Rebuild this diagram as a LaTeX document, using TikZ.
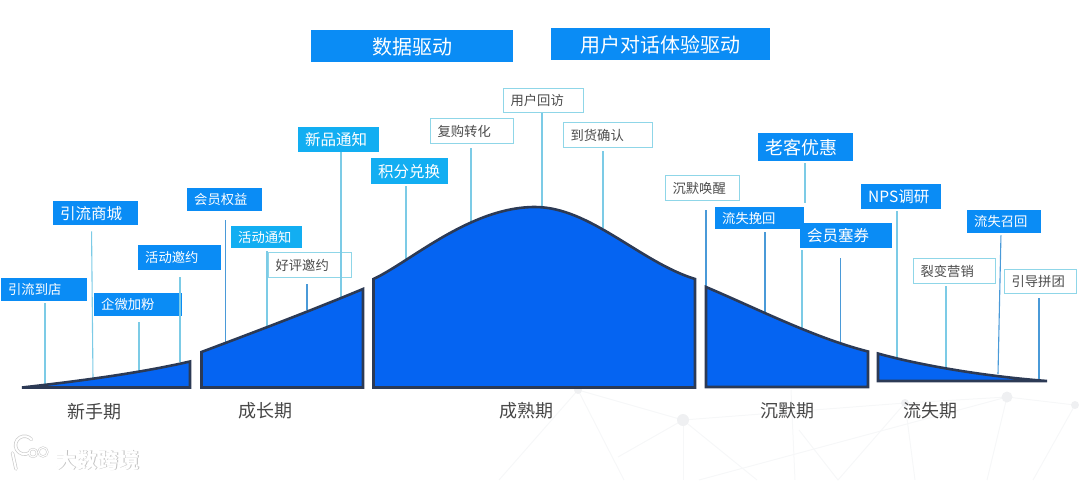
\documentclass[tikz,border=0pt]{standalone}
\usepackage{fontspec}
\setmainfont{Noto Sans CJK SC}
\usepackage{xcolor}
\usetikzlibrary{positioning,calc}
\definecolor{tagblue}{HTML}{0A8CF5}
\definecolor{tagsky}{HTML}{12AEF2}
\definecolor{tagedge}{HTML}{8FD6E8}
\definecolor{linesky}{HTML}{7CCBE6}
\definecolor{linedeep}{HTML}{4A9AD8}
\definecolor{hillfill}{HTML}{0564F2}
\definecolor{hilledge}{HTML}{2C3A55}
\definecolor{netgray}{HTML}{F6F7F8}
\definecolor{netdot}{HTML}{EFF0F2}
\tikzset{
  bluetag/.style={fill=tagblue,text=white,anchor=north west,inner xsep=7,inner ysep=0,align=left},
  skytag/.style={bluetag,fill=tagsky},
  whitetag/.style={draw=tagedge,line width=1.2pt,fill=white,text=black!70,anchor=north west,inner xsep=7,inner ysep=0,align=left},
  banner/.style={bluetag,minimum height=32,align=center,text height=17.4,text depth=0,font=\fontsize{20}{22}\selectfont},
  tagline/.style={linesky,line width=1.1pt},
  deepline/.style={linedeep,line width=1.1pt},
  hill/.style={fill=hillfill,draw=hilledge,line width=2.6pt,line join=miter},
  stage/.style={text=black!72,font=\fontsize{18}{20}\selectfont},
  small/.style={font=\fontsize{13.3}{15}\selectfont},
  mid/.style={font=\fontsize{15.5}{18}\selectfont},
  net/.style={netgray,line width=1pt},
  markshade/.style={text=black!25,font=\fontsize{21}{23}\selectfont\bfseries},
  logoshade/.style={black!20,line width=3.4pt,line cap=round},
  logoline/.style={white,line width=2pt,line cap=round}
}
\begin{document}
\begin{tikzpicture}[x=1pt,y=-1pt]
\useasboundingbox (0,0) rectangle (1080,480);
% faint net at the bottom
\draw[net] (499,480)--(578,390)--(683,420)--(905,403)--(1007,397)--(1075,405);
\draw[net] (578,390)--(624,480);
\draw[net] (683,420)--(618,457);
\draw[net] (683,420)--(683,480);
\draw[net] (683,420)--(757,480);
\draw[net] (1007,397)--(699,480);
\draw[net] (791,390)--(795,480);
\draw[net] (799,430)--(838,480)--(905,403)--(915,480);
\draw[net] (1007,397)--(987,480);
\draw[net] (1075,405)--(1033,480);
\fill[netdot] (683,420) circle (6);
\fill[netdot] (1007,397) circle (5.5);
\fill[netdot] (905,403) circle (4);
\fill[netdot] (1075,405) circle (4);
\fill[netdot] (578,390) circle (4);
% top banners
\node[banner,minimum width=202] (banData) at (311,30) {数据驱动};
\node[banner,minimum width=219] (banTalk) at (551,28) {用户对话体验驱动};
% new users
\node[bluetag,small,text width=72,minimum height=23] (tagStore) at (1,278) {引流到店};
\node[bluetag,mid,text width=71,minimum height=24] (tagMall) at (53,201) {引流商城};
\node[bluetag,small,text width=69,minimum height=25] (tagInvite) at (138,245) {活动邀约};
\node[bluetag,small,text width=74,minimum height=23] (tagWecom) at (94,293) {企微加粉};
% growth
\node[bluetag,small,text width=61,minimum height=23] (tagRights) at (187,188) {会员权益};
\node[skytag,small,text width=57,minimum height=22] (tagNotice) at (231,226) {活动通知};
\node[whitetag,small,text width=69,minimum height=25] (tagReview) at (268,252) {好评邀约};
\node[skytag,mid,text width=67,minimum height=25] (tagNew) at (298,127) {新品通知};
% mature
\node[skytag,mid,text width=63,minimum height=26] (tagPoints) at (371,158) {积分兑换};
\node[whitetag,small,text width=69,minimum height=25] (tagRebuy) at (430,118) {复购转化};
\node[whitetag,small,text width=66,minimum height=24] (tagVisit) at (503,88) {用户回访};
\node[whitetag,small,text width=75,minimum height=25] (tagArrive) at (563,122) {到货确认};
% silent
\node[whitetag,small,text width=60,minimum height=25] (tagWake) at (665,175) {沉默唤醒};
\node[bluetag,small,text width=75,minimum height=22] (tagSave) at (715,207) {流失挽回};
\node[bluetag,font=\fontsize{18}{20}\selectfont,text width=81,minimum height=28] (tagOld) at (758,133) {老客优惠};
\node[bluetag,mid,text width=78,minimum height=25] (tagCoupon) at (800,223) {会员塞券};
% lost
\node[bluetag,mid,text width=66,minimum height=25] (tagNps) at (861,184) {NPS调研};
\node[whitetag,small,text width=68,minimum height=25] (tagFission) at (913,258) {裂变营销};
\node[bluetag,small,text width=60,minimum height=23] (tagBack) at (967,210) {流失召回};
\node[whitetag,small,text width=58,minimum height=24] (tagGroup) at (1004,269) {引导拼团};
% feet of the lines
\coordinate (footStore) at (45,385);
\coordinate (footMall) at (93,379);
\coordinate (footInvite) at (180,362);
\coordinate (footWecom) at (139,372);
\coordinate (footRights) at (225.5,343);
\coordinate (footNotice) at (267,327);
\coordinate (footReview) at (307,310);
\coordinate (footNew) at (341,298);
\coordinate (footPoints) at (406,265);
\coordinate (footRebuy) at (471,225);
\coordinate (footVisit) at (542,206);
\coordinate (footArrive) at (603,228);
\coordinate (footWake) at (706,287);
\coordinate (footSave) at (765,312);
\coordinate (footOld) at (805,203);
\coordinate (footCoupon) at (802,329);
\coordinate (footCouponB) at (840.5,342);
\coordinate (footNps) at (897,358);
\coordinate (footFission) at (946,370);
\coordinate (footBack) at (998,374);
\coordinate (footGroup) at (1039,381);
\draw[tagline,shorten <=2] (tagStore.south -| footStore)--(footStore);
\draw[tagline,shorten <=6] ([xshift=-1.5]tagMall.south -| footMall)--(footMall);
\draw[tagline,shorten <=7] (tagInvite.south -| footInvite)--(footInvite);
\draw[tagline,shorten <=6] (tagWecom.south -| footWecom)--(footWecom);
\draw[deepline,shorten <=9] (tagRights.south -| footRights)--(footRights);
\draw[tagline,shorten <=3] (tagNotice.south -| footNotice)--(footNotice);
\draw[deepline,shorten <=6] (tagReview.south -| footReview)--(footReview);
\draw[tagline] (tagNew.south -| footNew)--(footNew);
\draw[tagline,shorten <=2] (tagPoints.south -| footPoints)--(footPoints);
\draw[tagline,shorten <=4] (tagRebuy.south -| footRebuy)--(footRebuy);
\draw[tagline] (tagVisit.south -| footVisit)--(footVisit);
\draw[tagline,shorten <=3] (tagArrive.south -| footArrive)--(footArrive);
\draw[deepline,shorten <=9] (tagWake.south -| footWake)--(footWake);
\draw[deepline,shorten <=3] (tagSave.south -| footSave)--(footSave);
\draw[tagline,shorten <=2] (tagOld.south -| footOld)--(footOld);
\draw[tagline,shorten <=2] (tagCoupon.south -| footCoupon)--(footCoupon);
\draw[deepline,shorten <=10] (tagCoupon.south -| footCouponB)--(footCouponB);
\draw[tagline,shorten <=2] (tagNps.south -| footNps)--(footNps);
\draw[tagline,shorten <=2] (tagFission.south -| footFission)--(footFission);
\draw[deepline,shorten <=2] ([xshift=3]tagBack.south -| footBack)--(footBack);
\draw[deepline,shorten <=4] (tagGroup.south -| footGroup)--(footGroup);
% the five parts of the curve
\draw[hill] (22,387.5) .. controls (80,381) and (140,373) .. (190,361.5) -- (190,387.5) -- cycle;
\draw[hill] (201.5,352) .. controls (260,330) and (310,311) .. (363,289) -- (363,387.5) -- (201.5,387.5) -- cycle;
\draw[hill] (373.5,279) .. controls (410,262) and (470,207) .. (535,207) .. controls (590,207) and (640,262) .. (695,279) -- (695,387.5) -- (373.5,387.5) -- cycle;
\draw[hill] (706,287) .. controls (760,310) and (815,338) .. (868,351.5) -- (868,387) -- (706,387) -- cycle;
\draw[hill] (878,353.5) .. controls (915,364) and (980,376) .. (1047,381) -- (878,381) -- cycle;
% stages
\node[stage] (stageNew) at (94,412) {新手期};
\node[stage] (stageGrow) at (265,411) {成长期};
\node[stage] (stageRipe) at (526,411) {成熟期};
\node[stage] (stageQuiet) at (787,411) {沉默期};
\node[stage] (stageLost) at (930,411) {流失期};
% watermark
\node[markshade] (markShadow) at (98.8,460.8) {大数跨境};
\node[markshade,text=white] (markText) at (98,460) {大数跨境};
\draw[logoshade] (12.5,453)--(16,469);
\draw[logoshade] (29,453) arc (60:320:9);
\draw[logoshade,line width=2.2pt] (33,453) circle (4) (43,452) circle (4.5);
\draw[logoline] (12.5,453)--(16,469);
\draw[logoline] (29,453) arc (60:320:9);
\draw[logoline,line width=1.1pt] (33,453) circle (4) (43,452) circle (4.5);
\end{tikzpicture}
\end{document}
